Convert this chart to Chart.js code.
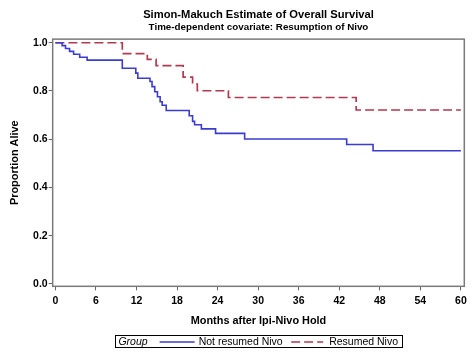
<!DOCTYPE html>
<html>
<head>
<meta charset="utf-8">
<script src="https://cdn.jsdelivr.net/npm/chart.js@4"></script>
<style>
html,body{margin:0;padding:0;background:#fff;}
#wrap{width:474px;height:355px;position:relative;}
</style>
</head>
<body>
<div id="wrap"><canvas id="c" width="474" height="355"></canvas></div>
<script>
// Data
const titleText = 'Simon-Makuch Estimate of Overall Survival';
const subtitleText = 'Time-dependent covariate: Resumption of Nivo';
const xTitle = 'Months after Ipi-Nivo Hold';
const yTitle = 'Proportion Alive';
const legendTitle = 'Group';
const seriesNames = ['Not resumed Nivo', 'Resumed Nivo'];

const notResumedMonths = [0, 1.0, 1.5, 2.1, 2.7, 3.6, 4.7, 9.9, 11.9, 12.2, 14.0, 14.3, 14.7, 15.1, 15.5, 15.8, 16.4, 19.8, 20.3, 20.6, 21.6, 23.7, 28.0, 43.1, 47.0, 60];
const notResumedSurv   = [1.0, 0.988, 0.976, 0.964, 0.952, 0.940, 0.928, 0.894, 0.874, 0.853, 0.839, 0.818, 0.797, 0.776, 0.755, 0.741, 0.719, 0.697, 0.674, 0.660, 0.643, 0.624, 0.601, 0.578, 0.552, 0.552];

const resumedMonths = [0, 9.9, 13.6, 14.9, 18.9, 20.3, 21.0, 25.6, 44.5, 60];
const resumedSurv   = [1.0, 0.955, 0.931, 0.905, 0.857, 0.829, 0.801, 0.773, 0.721, 0.721];

const xTicks = [0, 6, 12, 18, 24, 30, 36, 42, 48, 54, 60];
const yTicks = [0.0, 0.2, 0.4, 0.6, 0.8, 1.0];

const toPoints = (xs, ys) => xs.map((x, i) => ({x: x, y: ys[i]}));

const FONT = '"Liberation Sans", Arial, sans-serif';
const BLUE = '#3b3bcf';
const RED = '#b03a4f';

const framePlugin = {
  id: 'frame',
  afterDatasetsDraw(chart) {
    const {ctx, chartArea: a} = chart;
    ctx.save();
    ctx.strokeStyle = '#7a7a7a';
    ctx.lineWidth = 1.5;
    ctx.strokeRect(a.left, a.top, a.right - a.left, a.bottom - a.top);
    ctx.restore();
  }
};

const legendPlugin = {
  id: 'boxLegend',
  afterDraw(chart) {
    const ctx = chart.ctx;
    const ds = chart.data.datasets;
    ctx.save();
    const top = 335.5, h = 12;
    const cy = top + h / 2 + 0.5;
    ctx.textBaseline = 'middle';
    ctx.font = 'italic 10.5px ' + FONT;
    const gW = ctx.measureText(legendTitle).width;
    ctx.font = '10.5px ' + FONT;
    const w = [ctx.measureText(ds[0].label).width, ctx.measureText(ds[1].label).width];
    const pad = 3.5, gapG = 12, lines = [35, 32], gapsAfterLine = [4, 6], gapText = 8.5, padEnd = 4;
    const total = pad + gW + gapG + lines[0] + gapsAfterLine[0] + w[0] + gapText + lines[1] + gapsAfterLine[1] + w[1] + padEnd;
    const left = (chart.chartArea.left + chart.chartArea.right) / 2 - total / 2;
    ctx.strokeStyle = '#000';
    ctx.lineWidth = 1;
    ctx.strokeRect(Math.round(left) + 0.5, top, Math.round(total), h);
    let x = left + pad;
    ctx.fillStyle = '#000';
    ctx.font = 'italic 10.5px ' + FONT;
    ctx.fillText(legendTitle, x, cy);
    x += gW + gapG;
    for (let i = 0; i < 2; i++) {
      ctx.strokeStyle = ds[i].borderColor;
      ctx.lineWidth = 1.6;
      ctx.setLineDash(ds[i].borderDash || []);
      ctx.beginPath();
      ctx.moveTo(x, cy);
      ctx.lineTo(x + lines[i], cy);
      ctx.stroke();
      ctx.setLineDash([]);
      x += lines[i] + gapsAfterLine[i];
      ctx.font = '10.5px ' + FONT;
      ctx.fillStyle = '#000';
      ctx.fillText(ds[i].label, x, cy);
      x += w[i] + gapText;
    }
    ctx.restore();
  }
};

new Chart(document.getElementById('c'), {
  type: 'line',
  data: {
    datasets: [
      {
        label: seriesNames[0],
        data: toPoints(notResumedMonths, notResumedSurv),
        borderColor: BLUE,
        borderWidth: 1.6,
        stepped: 'before',
        pointRadius: 0,
        fill: false
      },
      {
        label: seriesNames[1],
        data: toPoints(resumedMonths, resumedSurv),
        borderColor: RED,
        borderWidth: 1.7,
        borderDash: [9, 4],
        stepped: 'before',
        pointRadius: 0,
        fill: false
      }
    ]
  },
  options: {
    responsive: false,
    animation: false,
    devicePixelRatio: 1,
    layout: {padding: {left: 4, right: 9.7, top: 0, bottom: 27}},
    plugins: {
      legend: {display: false},
      tooltip: {enabled: false},
      title: {
        display: true,
        fullSize: false,
        text: titleText,
        color: '#000',
        font: {family: FONT, size: 11.2, weight: 'bold', lineHeight: 1.1},
        padding: {top: 8.5, bottom: 1.5}
      },
      subtitle: {
        display: true,
        fullSize: false,
        text: subtitleText,
        color: '#000',
        font: {family: FONT, size: 9.8, weight: 'bold', lineHeight: 1.0},
        padding: {top: 0, bottom: 7}
      }
    },
    scales: {
      x: {
        type: 'linear',
        min: -0.4,
        max: 60.5,
        afterBuildTicks: (s) => { s.ticks = xTicks.map(v => ({value: v})); },
        ticks: {
          color: '#000',
          font: {family: FONT, size: 10.5, weight: 'bold'},
          padding: 4,
          maxRotation: 0,
          callback: (v) => String(v)
        },
        grid: {display: true, drawOnChartArea: false, tickLength: 4, color: '#666', tickColor: '#666'},
        border: {display: false},
        title: {
          display: true,
          text: xTitle,
          color: '#000',
          font: {family: FONT, size: 10.9, weight: 'bold'},
          padding: {top: 4, bottom: 0}
        }
      },
      y: {
        type: 'linear',
        min: -0.01,
        max: 1.015,
        afterBuildTicks: (s) => { s.ticks = yTicks.map(v => ({value: v})); },
        ticks: {
          color: '#000',
          font: {family: FONT, size: 10.5, weight: 'bold'},
          padding: 1,
          callback: (v) => Number(v).toFixed(1)
        },
        grid: {display: true, drawOnChartArea: false, tickLength: 4, color: '#666', tickColor: '#666'},
        border: {display: false},
        title: {
          display: true,
          text: yTitle,
          color: '#000',
          font: {family: FONT, size: 10.9, weight: 'bold'},
          padding: {top: 4, bottom: 11}
        }
      }
    }
  },
  plugins: [framePlugin, legendPlugin]
});
</script>
</body>
</html>
